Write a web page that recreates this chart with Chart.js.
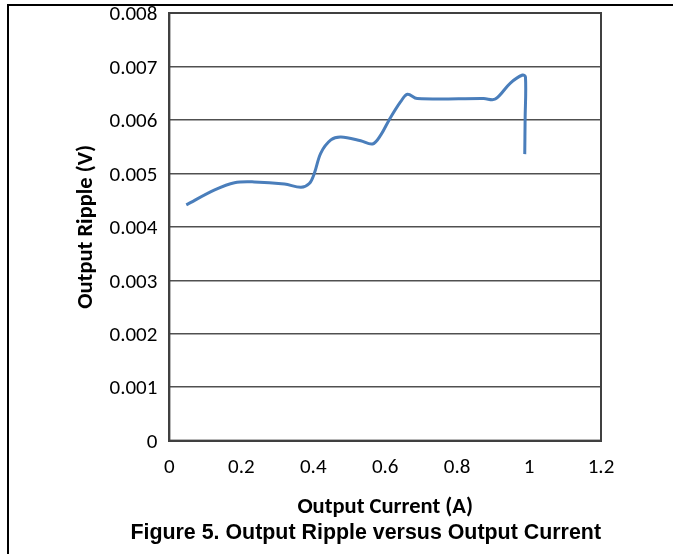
<!DOCTYPE html>
<html>
<head>
<meta charset="utf-8">
<script src="https://cdn.jsdelivr.net/npm/chart.js@4"></script>
<style>
  html, body { margin: 0; padding: 0; background: #fff; }
  #wrap { position: relative; width: 673px; height: 554px; }
  #frame { position: absolute; left: 7px; top: 4px; right: 0; bottom: 0;
           border-top: 2px solid #000; border-left: 2px solid #000; pointer-events: none; }
</style>
</head>
<body>
<div id="wrap">
  <canvas id="Ripple" width="673" height="554"></canvas>
  <div id="frame"></div>
</div>
<script>
// output current (A) and ripple (V)
const currentA = [0.047, 0.126, 0.181, 0.236, 0.32, 0.366, 0.389, 0.403, 0.421, 0.449, 0.477,
                  0.532, 0.565, 0.588, 0.611, 0.643, 0.662, 0.689, 0.874, 0.906, 0.948, 0.982,
                  0.99, 0.989, 0.988];
const rippleV = [0.00441, 0.00469, 0.004825, 0.00484, 0.0048, 0.00474, 0.00481, 0.005, 0.00538,
                 0.005625, 0.00568, 0.00561, 0.00555, 0.00572, 0.006, 0.00634, 0.00648, 0.0064,
                 0.0064, 0.00639, 0.00669, 0.00684, 0.0068, 0.006, 0.00536];

const xTickFont = { family: 'Carlito, Lato, sans-serif', size: 21 };
const yTickFont = { family: 'Carlito, Lato, sans-serif', size: 21 };
const titleFont = { family: 'Carlito, Lato, sans-serif', size: 22.5, weight: 'bold', lineHeight: 1 };

const points = [];
for (var i = 0; i < currentA.length; i++) {
    points.push({ x: currentA[i], y: rippleV[i] });
}

// box around the plot area, like the spreadsheet chart
const plotFrame = {
    id: 'plotFrame',
    afterDraw: function(chart) {
        const a = chart.chartArea;
        const c = chart.ctx;
        c.save();
        c.strokeStyle = '#404040';
        c.lineWidth = 2;
        c.strokeRect(a.left, a.top, a.right - a.left, a.bottom - a.top);
        c.restore();
    }
};

const ctx = document.getElementById('Ripple');
const myChart = new Chart(ctx, {
    type: 'scatter',
    data: {
        datasets: [{
            label: 'Output Ripple',
            data: points,
            showLine: true,
            borderColor: '#4a7ebb',
            borderWidth: 3,
            pointRadius: 0,
            tension: 0.35,
            fill: false
        }]
    },
    options: {
        responsive: false,
        animation: false,
        layout: { padding: { left: 75, right: 72, top: 13, bottom: 8 } },
        scales: {
            x: {
                min: 0,
                max: 1.2,
                ticks: {
                    stepSize: 0.2,
                    color: '#000',
                    font: xTickFont,
                    padding: 15,
                    callback: function(v) { return String(Number(v.toFixed(1))); }
                },
                grid: { display: false, drawTicks: false },
                border: { color: '#404040', width: 2 },
                title: { display: true, text: 'Output Current (A)', color: '#000', font: titleFont, padding: { top: 0, bottom: 0 } }
            },
            y: {
                min: 0,
                max: 0.008,
                afterFit: function(scale) { scale.paddingTop = 0; },
                ticks: {
                    stepSize: 0.001,
                    color: '#000',
                    font: yTickFont,
                    padding: 12,
                    labelOffset: 2,
                    callback: function(v) { return v === 0 ? '0' : v.toFixed(3); }
                },
                grid: { color: '#505050', lineWidth: 1.5, drawTicks: false },
                border: { color: '#404040', width: 2 },
                title: { display: true, text: 'Output Ripple (V)', color: '#000', font: titleFont, padding: { top: 0, bottom: 0 } }
            }
        },
        plugins: {
            legend: { display: false },
            tooltip: { enabled: false },
            title: {
                display: true,
                position: 'bottom',
                align: 'end',
                text: 'Figure 5. Output Ripple versus Output Current',
                color: '#000',
                font: { family: '"Liberation Sans", Arial, sans-serif', size: 21.4, weight: 'bold' },
                padding: { top: 2, bottom: 0 }
            }
        }
    },
    plugins: [plotFrame]
});
</script>
</body>
</html>
